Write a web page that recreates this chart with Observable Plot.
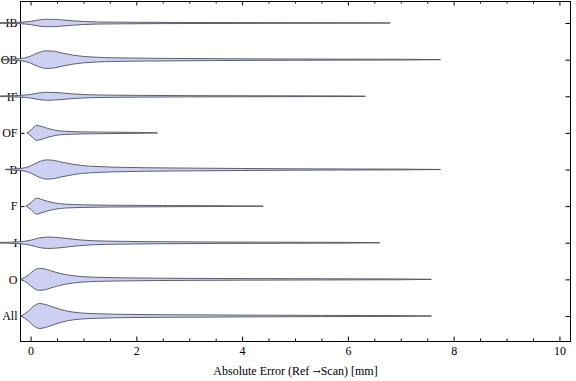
<!DOCTYPE html>
<html><head><meta charset="utf-8">
<script src="https://cdn.jsdelivr.net/npm/d3@7"></script>
<script src="https://cdn.jsdelivr.net/npm/@observablehq/plot@0.6"></script>
<style>body{margin:0;background:#fff}</style>
</head><body><div id="chart"></div>
<script>
// categories, top to bottom as drawn
const categories = ["IB","OB","IF","OF","B","F","I","O","All"];
// density profiles: [error (mm), density]
const densIB = [[-0.6,0.3],[-0.2,0.7],[0,1.6],[0.15,3],[0.3,3.7],[0.45,3.6],[0.6,3],[0.8,2.2],[1.0,1.5],[1.3,1.0],[2,0.7],[3,0.5],[4,0.4],[5,0.3],[6,0.2],[6.8,0]];
const densOB = [[-0.55,0.2],[-0.2,1],[0,3.5],[0.15,7],[0.3,8.8],[0.45,8.3],[0.6,6.5],[0.8,4.5],[1.0,3.2],[1.2,2.5],[1.6,1.8],[2.7,1.2],[4,0.8],[5,0.6],[6,0.5],[7,0.4],[7.75,0]];
const densIF = [[-0.6,0.3],[-0.2,0.8],[0,1.8],[0.15,3.2],[0.3,4],[0.45,3.8],[0.6,3.2],[0.8,2.3],[1.1,1.5],[1.5,1.1],[2,0.9],[3,0.6],[4,0.5],[5,0.4],[6,0.3],[6.33,0]];
const densOF = [[-0.06,0],[0.03,4],[0.11,7.5],[0.2,6.5],[0.32,4.5],[0.45,2.8],[0.64,1.6],[1.0,1.0],[1.5,0.7],[2,0.5],[2.4,0]];
const densB  = [[-0.47,0.2],[-0.2,1],[0,3.5],[0.15,7.5],[0.31,9.6],[0.45,9],[0.6,7.2],[0.8,5.2],[0.96,4],[1.3,2.9],[1.6,2.3],[2.7,1.5],[4,1],[5,0.7],[6,0.5],[7,0.4],[7.75,0]];
const densF  = [[-0.08,0],[0.02,4],[0.11,8],[0.2,6.8],[0.32,4.8],[0.45,3.2],[0.64,2],[1.0,1.3],[1.5,0.9],[2.5,0.6],[3.5,0.4],[4.4,0]];
const densI  = [[-0.59,0.3],[-0.2,1],[0,2.5],[0.15,4.6],[0.32,5.7],[0.5,5.3],[0.7,4.2],[0.9,3],[1.2,2],[1.6,1.5],[2.5,1.0],[3.5,0.7],[5,0.5],[6,0.4],[6.6,0]];
const densO  = [[-0.18,0],[-0.05,4],[0.05,8.5],[0.17,11],[0.3,10],[0.45,7.5],[0.64,5],[0.96,2.8],[1.3,2],[1.8,1.5],[3,1],[4,0.8],[5.5,0.6],[7,0.4],[7.58,0]];
const densAll= [[-0.18,0],[-0.05,4.5],[0.05,9.5],[0.17,12.5],[0.3,11.2],[0.45,8.5],[0.64,5.5],[0.96,3],[1.3,2.2],[1.6,1.8],[2.5,1.3],[4,0.9],[5.5,0.6],[7,0.4],[7.58,0]];
const profiles = [densIB, densOB, densIF, densOF, densB, densF, densI, densO, densAll];

const xMajorTicks = [0,2,4,6,8,10];
const xMinorTicks = [0.5,1,1.5,2.5,3,3.5,4.5,5,5.5,6.5,7,7.5,8.5,9,9.5];
const xLabelParts = ["Absolute Error (Ref ", "\u2192", "Scan) [mm]"];
const xLabel = xLabelParts.join("");

const widthScale = 1 / 36.6; // density -> category units
const n = categories.length;
const rows = [];
profiles.forEach((p, i) => {
  const pos = n - 1 - i;
  p.forEach(([x, d]) => rows.push({cat: categories[i], pos, x, y1: pos - d * widthScale, y2: pos + d * widthScale}));
});
const yTicks = categories.map((c, i) => n - 1 - i);
const catAt = v => categories[n - 1 - v];

const W = 576, H = 381, ML = 20, MR = 6, MT = 1, MB = 40;
const innerW = W - ML - MR, innerH = H - MT - MB;
const MAJ = 4.5, MIN = 2.5; // inward tick lengths
const TC = "#000";
const font = "Liberation Serif, Times New Roman, serif";
const chart = Plot.plot({
  width: W, height: H,
  marginLeft: ML, marginRight: MR, marginTop: MT, marginBottom: MB,
  style: {fontFamily: font, fontSize: "12px", background: "#fff", color: "#000"},
  x: {domain: [-0.2, 10.2]},
  y: {domain: [-0.683, 8.601]},
  marks: [
    Plot.ruleX(xMinorTicks, {x: d => d, insetTop: innerH - MIN, stroke: TC}),
    Plot.ruleX(xMajorTicks, {x: d => d, insetTop: innerH - MAJ, stroke: TC}),
    Plot.ruleX(xMinorTicks, {x: d => d, insetBottom: innerH - MIN, stroke: TC}),
    Plot.ruleX(xMajorTicks, {x: d => d, insetBottom: innerH - MAJ, stroke: TC}),
    Plot.ruleY(yTicks, {y: d => d, insetRight: innerW - MAJ, stroke: TC}),
    Plot.ruleY(yTicks, {y: d => d, insetLeft: innerW - MAJ, stroke: TC}),
    Plot.axisX({anchor: "bottom", ticks: xMajorTicks, tickSize: 0, tickPadding: 5, label: null, fontSize: 12, fill: "#000"}),
    Plot.axisY({anchor: "left", ticks: yTicks, tickSize: 0, tickPadding: 3, tickFormat: catAt, label: null, fontSize: 12, fill: "#000"}),
    Plot.frame({stroke: "#000", strokeWidth: 1}),
    Plot.areaY(rows, {x: "x", y1: "y1", y2: "y2", z: "cat", curve: "monotone-x",
      fill: "#ccd1f4", stroke: "#50505c", strokeWidth: 1, strokeOpacity: 0.9}),
    Plot.text([xLabel], {frameAnchor: "bottom", dy: 30, lineAnchor: "middle", fontSize: 12, fill: "#000", className: "xlabel"})
  ]
});
// render the arrow in a font that has a full-size glyph for it
d3.select(chart).selectAll(".xlabel text").each(function () {
  const t = d3.select(this);
  t.text(null);
  xLabelParts.forEach((s, i) => {
    const ts = t.append("tspan").text(s);
    if (i === 1) ts.attr("font-family", "DejaVu Serif").attr("font-size", 10);
  });
});
document.getElementById("chart").append(chart);
</script>
</body></html>
